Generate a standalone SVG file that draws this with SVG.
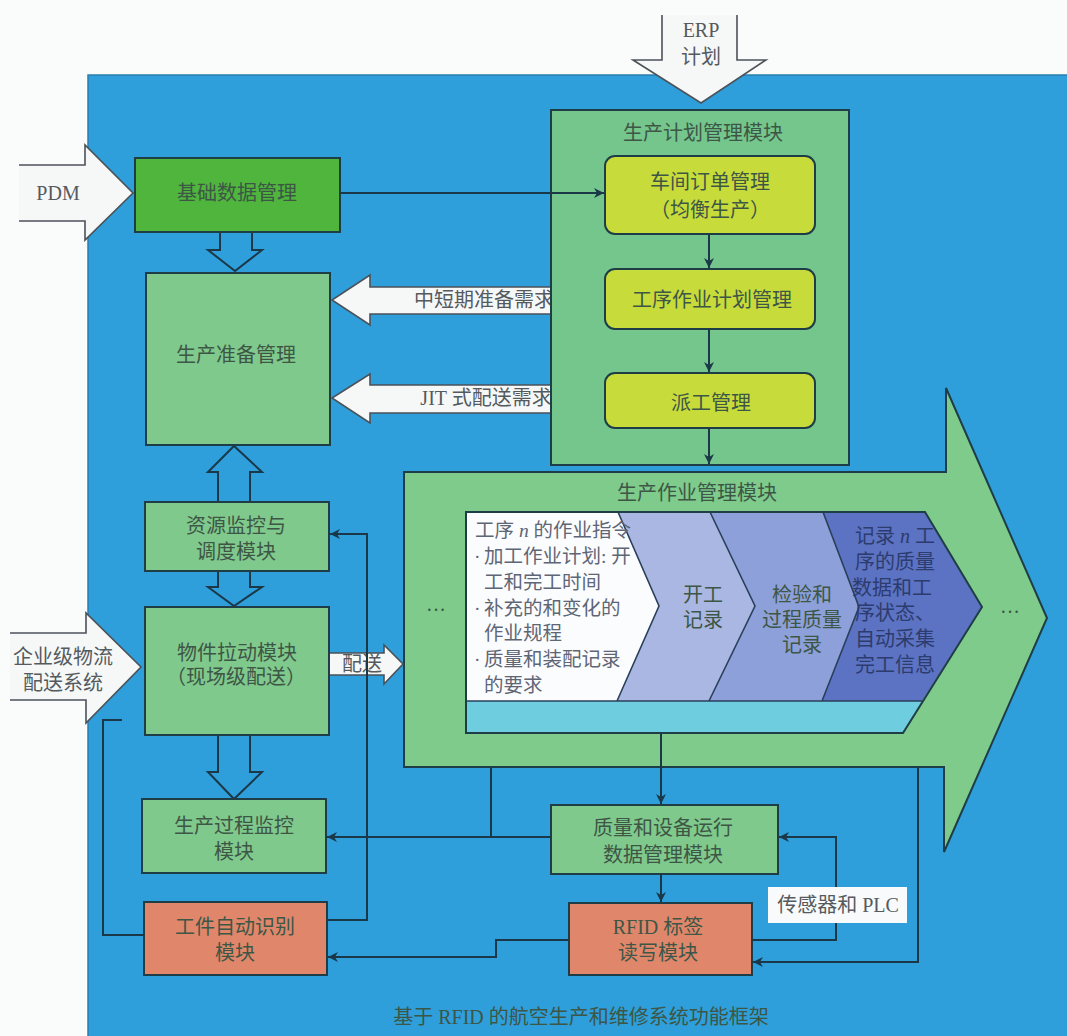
<svg xmlns="http://www.w3.org/2000/svg" width="1067" height="1036" viewBox="0 0 1067 1036">
<defs>
<style>
.t{font-family:"Liberation Serif","Noto Sans CJK SC",serif;font-size:20px;fill:#3d5646;text-anchor:middle;dominant-baseline:central}
.tl{font-family:"Liberation Serif","Noto Sans CJK SC",serif;font-size:20px;fill:#2c3c6e;text-anchor:start;dominant-baseline:central}
.ts{font-family:"Liberation Serif","Noto Sans CJK SC",serif;font-size:19.5px;fill:#5e6676;text-anchor:start;dominant-baseline:central}
.box{stroke:#1f3d46;stroke-width:2}
.ln{fill:none;stroke:#1b3848;stroke-width:2}
.ha{fill:none;stroke:#1b3848;stroke-width:2;stroke-linejoin:miter}
.wa{fill:#f6f8f8;stroke:#4b5258;stroke-width:1.6;stroke-linejoin:miter}
.wt{fill:#555a5e}
</style>
<marker id="ah" viewBox="0 0 10 10" refX="10" refY="5" markerWidth="11" markerHeight="10" markerUnits="userSpaceOnUse" orient="auto">
<path d="M0,0 L10,5 L0,10 L3,5 z" fill="#1b3848"/>
</marker>
</defs>

<rect x="0" y="0" width="1067" height="1036" fill="#fafcfc"/>
<rect id="frame" x="88" y="75" width="990" height="975" fill="#2e9fdb" stroke="#2a7fb0" stroke-width="1.5"/>

<g id="n-exec">
<path d="M404,472 H946 V388 L1047,618 L944,852 V767 H404 Z" fill="#7ecb8b" stroke="#1f3d46" stroke-width="2"/>
<text class="t" x="697" y="493" fill="#4a6a55">生产作业管理模块</text>
<text class="t" x="436" y="610">···</text>
<text class="t" x="1010" y="612">···</text>
<polygon points="466,512 618,512 659,606 617,701 466,701" fill="#fbfcfd"/>
<polygon points="618,512 710,512 755,606 709,701 617,701 659,606" fill="#a9b7e2"/>
<polygon points="710,512 823,512 859,607 822,701 709,701 755,606" fill="#8da0d9"/>
<polygon points="823,512 925,512 982,607 922,701 822,701 859,607" fill="#5c72c2"/>
<polygon points="466,701 922,701 903,733 466,733" fill="#6fcde0"/>
<path d="M618,512 L659,606 L617,701 M710,512 L755,606 L709,701 M823,512 L859,607 L822,701 M466,701 H922" fill="none" stroke="#2a3f5a" stroke-width="1.6"/>
<polygon points="466,512 925,512 982,607 903,733 466,733" fill="none" stroke="#1f3d46" stroke-width="2"/>
<text class="ts" x="475" y="530">工序 <tspan font-style="italic">n</tspan> 的作业指令</text>
<text class="ts" x="474" y="556">·</text><text class="ts" x="484" y="556">加工作业计划: 开</text>
<text class="ts" x="484" y="582">工和完工时间</text>
<text class="ts" x="474" y="608">·</text><text class="ts" x="484" y="608">补充的和变化的</text>
<text class="ts" x="484" y="633">作业规程</text>
<text class="ts" x="474" y="659">·</text><text class="ts" x="484" y="659">质量和装配记录</text>
<text class="ts" x="484" y="685">的要求</text>
<text class="t" x="703" y="595" fill="#6e7fae">开工</text>
<text class="t" x="703" y="620" fill="#6e7fae">记录</text>
<text class="t" x="802" y="595" fill="#5d6f9e">检验和</text>
<text class="t" x="802" y="620" fill="#5d6f9e">过程质量</text>
<text class="t" x="802" y="645" fill="#5d6f9e">记录</text>
<text class="tl" x="855" y="536">记录 <tspan font-style="italic">n</tspan> 工</text>
<text class="tl" x="855" y="562">序的质量</text>
<text class="tl" x="852" y="588">数据和工</text>
<text class="tl" x="855" y="613">序状态、</text>
<text class="tl" x="855" y="639">自动采集</text>
<text class="tl" x="855" y="665">完工信息</text>
</g>

<g id="block-arrows">
<g id="a-pdm"><path class="wa" d="M19,165 H85 V145 L133,193 L85,240 V221 H19"/><text class="t wt" x="58" y="193" font-size="18">PDM</text></g>
<g id="a-erp"><path class="wa" d="M662,15 V60 H633 L701,103 L766,60 H737 V15"/><text class="t wt" x="701" y="30" font-size="17">ERP</text><text class="t wt" x="701" y="57" font-size="19">计划</text></g>
<g id="a-ent"><path class="wa" d="M10,633 H86 V613 L141,667 L86,723 V700 H10"/><text class="t wt" x="63" y="657" font-size="21">企业级物流</text><text class="t wt" x="63" y="683" font-size="21">配送系统</text></g>
<g id="a-short"><path class="wa" d="M605,287 H370 V275 L332,300 L370,325 V314 H605"/><text class="t wt" x="484" y="300">中短期准备需求</text></g>
<g id="a-jit"><path class="wa" d="M605,385 H370 V374 L332,398 L370,423 V413 H605"/><text class="t wt" x="486" y="398">JIT 式配送需求</text></g>
<g id="a-deliver"><path class="wa" d="M329,653 H384 V645 L403,664 L384,684 V675 H329"/><text class="t wt" x="362" y="664">配送</text></g>
<path class="ha" d="M220,232 V250 H208 L235,271 L262,250 H252 V232"/>
<path class="ha" d="M218,502 V472 H208 L234,446 L262,472 H250 V502"/>
<path class="ha" d="M218,571 V587 H208 L234,606 L262,587 H250 V571"/>
<path class="ha" d="M218,735 V772 H208 L234,799 L262,772 H250 V735"/>
</g>

<g id="n-plan">
<rect class="box" x="551" y="110" width="298" height="355" fill="#74c68c"/>
<text class="t" x="703" y="133" fill="#4a6a55">生产计划管理模块</text>
</g>
<g id="n-order"><rect class="box" x="605" y="156" width="210" height="78" rx="10" fill="#c7dc3b"/><text class="t" x="710" y="182">车间订单管理</text><text class="t" x="710" y="210">（均衡生产）</text></g>
<g id="n-proc"><rect class="box" x="605" y="269" width="210" height="60" rx="10" fill="#c7dc3b"/><text class="t" x="712" y="300">工序作业计划管理</text></g>
<g id="n-dispatch"><rect class="box" x="605" y="373" width="210" height="55" rx="10" fill="#c7dc3b"/><text class="t" x="711" y="403">派工管理</text></g>

<g id="n-basic"><rect class="box" x="135" y="158" width="205" height="74" fill="#4fb53d"/><text class="t" x="237" y="193">基础数据管理</text></g>
<g id="n-prep"><rect class="box" x="146" y="273" width="184" height="172" fill="#80c98c"/><text class="t" x="236" y="355">生产准备管理</text></g>
<g id="n-resource"><rect class="box" x="145" y="502" width="184" height="69" fill="#80c98c"/><text class="t" x="236" y="526">资源监控与</text><text class="t" x="236" y="552">调度模块</text></g>
<g id="n-pull"><rect class="box" x="145" y="607" width="184" height="128" fill="#80c98c"/><text class="t" x="237" y="653">物件拉动模块</text><text class="t" x="236" y="677">（现场级配送）</text></g>
<g id="n-monitor"><rect class="box" x="142" y="799" width="184" height="74" fill="#80c98c"/><text class="t" x="234" y="826">生产过程监控</text><text class="t" x="234" y="852">模块</text></g>
<g id="n-workpiece"><rect class="box" x="144" y="902" width="183" height="73" fill="#e0876b"/><text class="t" x="235" y="927">工件自动识别</text><text class="t" x="235" y="953">模块</text></g>
<g id="n-quality"><rect class="box" x="551" y="805" width="227" height="69" fill="#80c98c"/><text class="t" x="663" y="828">质量和设备运行</text><text class="t" x="663" y="855">数据管理模块</text></g>
<g id="n-rfid"><rect class="box" x="569" y="903" width="183" height="72" fill="#e0876b"/><text class="t" x="658" y="927">RFID 标签</text><text class="t" x="658" y="953">读写模块</text></g>

<g id="connectors">
<path class="ln" d="M340,193 H604" marker-end="url(#ah)"/>
<path class="ln" d="M709,234 V268" marker-end="url(#ah)"/>
<path class="ln" d="M709,329 V372" marker-end="url(#ah)"/>
<path class="ln" d="M709,428 V464" marker-end="url(#ah)"/>
<path class="ln" d="M661,733 V804" marker-end="url(#ah)"/>
<path class="ln" d="M661,874 V902" marker-end="url(#ah)"/>
<path class="ln" d="M551,837 H327" marker-end="url(#ah)"/>
<path class="ln" d="M491,767 V837"/>
<path class="ln" d="M918,767 V962 H753" marker-end="url(#ah)"/>
<path class="ln" d="M752,940 H836 V837 H779" marker-end="url(#ah)"/>
<path class="ln" d="M569,940 H496 V957 H328" marker-end="url(#ah)"/>
<path class="ln" d="M327,920 H367 V534 H330" marker-end="url(#ah)"/>
<path class="ln" d="M144,935 H103 V720 H122"/>
</g>

<g id="n-sensor"><rect x="768" y="887" width="139" height="36" fill="#f8fafb"/><text class="t wt" x="838" y="905">传感器和 PLC</text></g>

<text id="caption" class="t" x="581" y="1017" fill="#3a5262">基于 RFID 的航空生产和维修系统功能框架</text>
</svg>
